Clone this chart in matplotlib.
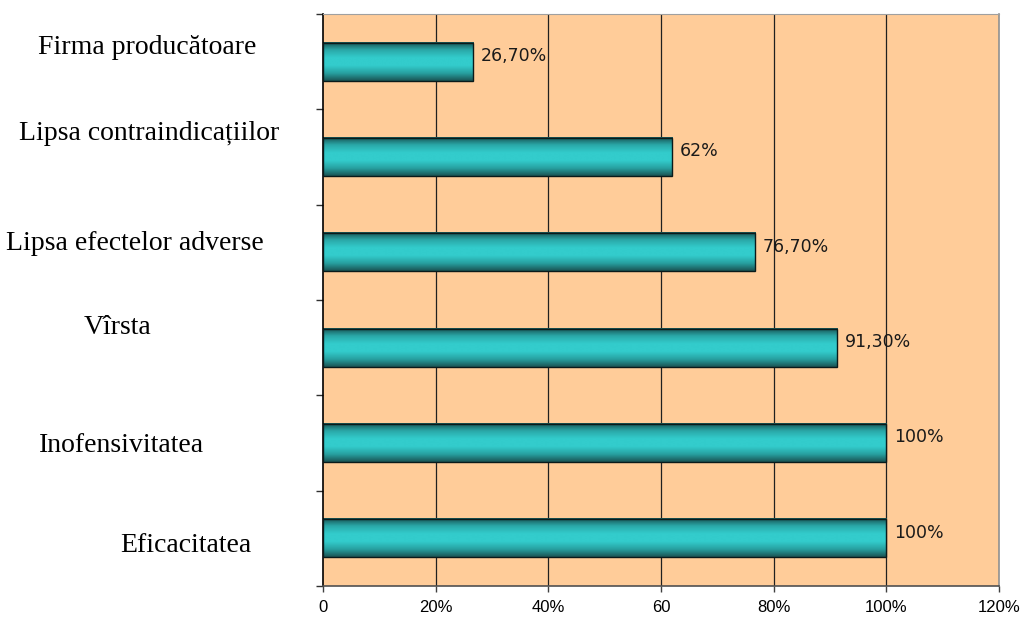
import numpy as np
import matplotlib
matplotlib.use('Agg')
import matplotlib.pyplot as plt
from matplotlib.colors import LinearSegmentedColormap

# Date: de jos in sus
categorii = ['Eficacitatea', 'Inofensivitatea', 'Vîrsta',
             'Lipsa efectelor adverse', 'Lipsa contraindicațiilor', 'Firma producătoare']
valori = [100, 100, 91.3, 76.7, 62, 26.7]
etichete_valori = ['100%', '100%', '91,30%', '76,70%', '62%', '26,70%']
x_ticks = [0, 20, 40, 60, 80, 100, 120]
x_tick_labels = ['0', '20%', '40%', '60', '80%', '100%', '120%']

# pozitiile etichetelor de categorie (pixeli in figura, centru)
label_pos = [(186, 545), (122, 445), (118, 328), (135, 244), (149, 134), (147, 48)]

W, H = 1027, 617
fig = plt.figure(figsize=(W / 100, H / 100), dpi=100)
ax = fig.add_axes([323 / W, 31 / H, 676 / W, 572 / H])
ax.set_facecolor('#FFCC99')

y = np.arange(len(categorii))
h = 0.4
cmap = LinearSegmentedColormap.from_list('cil', ['#1a5252', '#27a0a0', '#33CCCC', '#33CCCC', '#2aa8a8', '#175050'])
grad = np.linspace(0, 1, 256).reshape(-1, 1)

ax.set_xlim(0, 120)
ax.set_ylim(-0.5, len(categorii) - 0.5)

for xv in x_ticks[1:-1]:
    ax.axvline(xv, color='#202020', lw=0.9, zorder=1)

for yi, v, lab in zip(y, valori, etichete_valori):
    ax.imshow(grad, extent=[0, v, yi + h / 2, yi - h / 2], cmap=cmap,
              aspect='auto', zorder=2, interpolation='bilinear')
    ax.barh(yi, v, height=h, facecolor='none', edgecolor='#0a1a1a', lw=1.0, zorder=3)
    ax.text(v + 1.3, yi + 0.06, lab, va='center', ha='left', fontsize=12.5,
            family='DejaVu Sans', color='#1a1a1a', zorder=4)

ax.set_ylim(-0.5, len(categorii) - 0.5)
ax.set_xlim(0, 120)

ax.set_xticks(x_ticks)
ax.set_xticklabels(x_tick_labels, fontsize=12, family='Liberation Sans')
ax.set_yticks(np.arange(-0.5, len(categorii), 1))
ax.set_yticklabels([])
ax.tick_params(axis='x', length=4, width=1, color='#404040', pad=6)
ax.tick_params(axis='y', length=5, width=1, color='#303030')

ax.spines['left'].set_color('black')
ax.spines['left'].set_linewidth(1.2)
ax.spines['bottom'].set_color('#505050')
ax.spines['bottom'].set_linewidth(1.2)
ax.spines['top'].set_color('#A0A0A0')
ax.spines['right'].set_color('#909090')
ax.spines['right'].set_linewidth(1.2)

for cat, (px, py) in zip(categorii, label_pos):
    fig.text(px / W, 1 - py / H, cat, ha='center', va='center', fontsize=20,
             family='Liberation Serif', color='black')

fig.savefig('out.png', dpi=100)
